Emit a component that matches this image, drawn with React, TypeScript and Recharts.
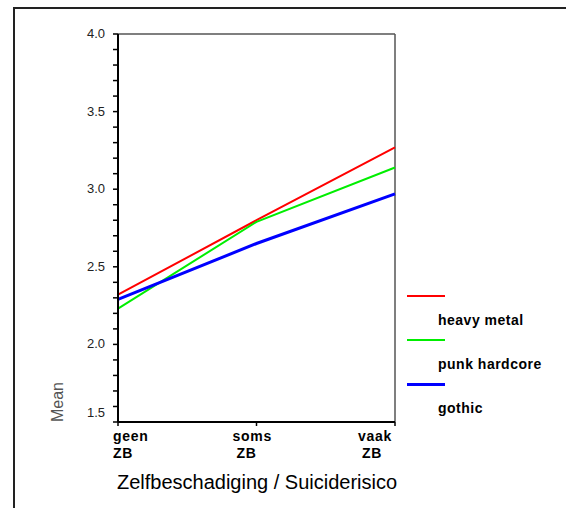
import React from 'react';
import { LineChart, Line, XAxis, YAxis, ReferenceLine, Legend } from 'recharts';

const categories = ['geen ZB', 'soms ZB', 'vaak ZB'];
const heavyMetal = [2.32, 2.8, 3.27];
const punkHardcore = [2.23, 2.79, 3.14];
const gothic = [2.29, 2.65, 2.97];
const yTicks = [1.5, 1.6, 1.7, 1.8, 1.9, 2.0, 2.1, 2.2, 2.3, 2.4, 2.5, 2.6, 2.7, 2.8, 2.9, 3.0, 3.1, 3.2, 3.3, 3.4, 3.5, 3.6, 3.7, 3.8, 3.9, 4.0];

const series = [
  { key: 'heavyMetal', name: 'heavy metal', color: '#ff0000', width: 2 },
  { key: 'punkHardcore', name: 'punk hardcore', color: '#00ee00', width: 2 },
  { key: 'gothic', name: 'gothic', color: '#0000ff', width: 3 },
];

const data = categories.map((c, i) => ({
  cat: c,
  heavyMetal: heavyMetal[i],
  punkHardcore: punkHardcore[i],
  gothic: gothic[i],
}));

const font = 'Arial, "Liberation Sans", sans-serif';

const YTick = (props: any) => {
  const { x, y, payload } = props;
  const v = payload.value;
  if (Math.abs(v * 2 - Math.round(v * 2)) > 0.001) return null;
  // lowest label sits a little above its tick in the original
  const shift = v === 1.5 ? -9 : 0;
  return (
    <text x={x} y={y + shift} dy={4} textAnchor="end" fontSize={13} fill="#222" fontFamily={font}>
      {v.toFixed(1)}
    </text>
  );
};

const XTick = (props: any) => {
  const { x, y, payload, index } = props;
  const [w1, w2] = String(payload.value).split(' ');
  const start = index === 0 ? x - 5 : index === 1 ? x - 24 : x - 37;
  return (
    <text y={y} fontSize={14} fontWeight="bold" fill="#000" fontFamily={font} letterSpacing={0.7}>
      <tspan x={start} dy={13}>{w1}</tspan>
      <tspan x={start + (index > 0 ? 4 : 0)} dy={17}>{w2}</tspan>
    </text>
  );
};

const LegendBox = () => (
  <div style={{ position: 'relative', width: 160, height: 140, fontFamily: font }}>
    {series.map((s, i) => (
      <React.Fragment key={s.key}>
        <div
          style={{
            position: 'absolute',
            left: 0,
            top: i * 44 - s.width / 2,
            width: 38,
            height: s.width,
            background: s.color,
          }}
        />
        <div
          style={{
            position: 'absolute',
            left: 31,
            top: i * 44 + 16,
            fontSize: 14,
            fontWeight: 'bold',
            letterSpacing: 0.5,
            color: '#000',
            whiteSpace: 'nowrap',
          }}
        >
          {s.name}
        </div>
      </React.Fragment>
    ))}
  </div>
);

export default function App() {
  return (
    <div style={{ position: 'absolute', left: 0, top: 0, width: 566, height: 508, background: '#fff' }}>
      <div
        style={{
          position: 'absolute',
          left: 13,
          top: 7,
          right: 0,
          bottom: 0,
          borderTop: '2px solid #222',
          borderLeft: '2px solid #222',
        }}
      />
      <LineChart
        width={566}
        height={508}
        data={data}
        margin={{ top: 34, right: 171, left: 58, bottom: 46 }}
        style={{ position: 'absolute', left: 0, top: 0 }}
      >
        <ReferenceLine y={4} stroke="#555" strokeWidth={1.5} />
        <ReferenceLine x="vaak ZB" stroke="#555" strokeWidth={1.5} />
        <XAxis
          dataKey="cat"
          height={40}
          padding={{ left: 0, right: 0 }}
          axisLine={{ stroke: '#000', strokeWidth: 2 }}
          tickLine={{ stroke: '#000', strokeWidth: 1.5 }}
          tickSize={4}
          tick={<XTick />}
          interval={0}
          label={{
            content: () => (
              <text x={257} y={489} textAnchor="middle" fontSize={20} fill="#000" fontFamily={font}>
                Zelfbeschadiging / Suiciderisico
              </text>
            ),
          }}
        />
        <YAxis
          width={60}
          domain={[1.5, 4]}
          ticks={yTicks}
          interval={0}
          axisLine={{ stroke: '#000', strokeWidth: 2 }}
          tickLine={{ stroke: '#000', strokeWidth: 1.5 }}
          tickSize={5}
          tickMargin={8}
          tick={<YTick />}
          label={{
            content: () => (
              <text
                x={63}
                y={402}
                transform="rotate(-90 63 402)"
                textAnchor="middle"
                fontSize={16}
                fill="#555"
                fontFamily={font}
              >
                Mean
              </text>
            ),
          }}
        />
        <Legend
          layout="horizontal"
          verticalAlign="middle"
          align="center"
          content={<LegendBox />}
          wrapperStyle={{ left: 407, top: 296, width: 160, height: 140 }}
        />
        {series.map((s) => (
          <Line
            key={s.key}
            dataKey={s.key}
            name={s.name}
            stroke={s.color}
            strokeWidth={s.width}
            dot={false}
            type="linear"
            isAnimationActive={false}
          />
        ))}
      </LineChart>
    </div>
  );
}
